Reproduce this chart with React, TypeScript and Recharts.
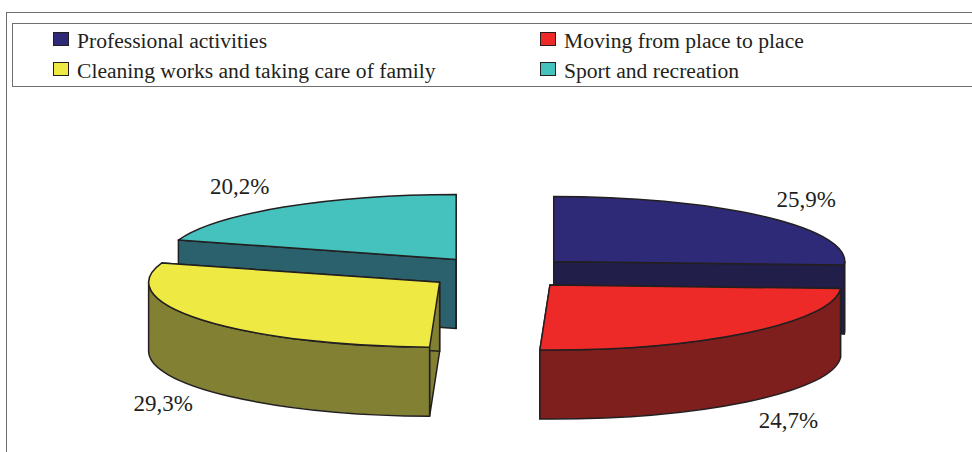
import React from "react";
import { PieChart, Pie, Legend } from "recharts";

const categories = [
  "Professional activities",
  "Moving from place to place",
  "Cleaning works and taking care of family",
  "Sport and recreation",
];
const shares = [25.9, 24.7, 29.3, 20.2];
const topColors = ["#2e2a78", "#ee2a28", "#efea43", "#45c1be"];
const wallColors = ["#211f4a", "#7f1f1d", "#828033", "#2b616c"];
// Paint back slices first so the front slices overlap them.
const paintOrder = [3, 0, 1, 2];

const INK = "#231f20";
const FONT = '"Liberation Serif", "Times New Roman", serif';
const RX = 291;
const RY = 65;
const TILT = RY / RX;
const DEPTH = 69;
const EXPLODE = 74;

const total = shares.reduce((s, v) => s + v, 0);
const startAngle = 90 + (360 * shares[3]) / total;
const pieData = paintOrder.map((i) => ({
  name: categories[i],
  value: shares[i],
  fill: topColors[i],
  wall: wallColors[i],
}));

function apex(cx: number, cy: number, mid: number) {
  const r = (mid * Math.PI) / 180;
  return { x: cx + EXPLODE * Math.cos(r), y: cy - EXPLODE * TILT * Math.sin(r) };
}

function Slice3D(props: any) {
  const { cx, cy, startAngle: a0, endAngle: a1, outerRadius, fill, payload } = props;
  const mid = (a0 + a1) / 2;
  const c = apex(cx, cy, mid);
  const ry = outerRadius * TILT;
  // t = degrees clockwise from 12 o'clock
  const pt = (t: number, dy = 0) => {
    const r = (t * Math.PI) / 180;
    return { x: c.x + outerRadius * Math.sin(r), y: c.y - ry * Math.cos(r) + dy };
  };
  const t0 = (((90 - a0) % 360) + 360) % 360;
  const t1 = t0 + Math.abs(a0 - a1);
  const f0 = Math.max(t0, 90);
  const f1 = Math.min(t1, 270);
  const s = pt(t0);
  const e = pt(t1);
  const quad = (p: { x: number; y: number }) =>
    `M${c.x},${c.y}L${p.x},${p.y}L${p.x},${p.y + DEPTH}L${c.x},${c.y + DEPTH}Z`;
  const arcTo = (p: { x: number; y: number }, sweep: number) =>
    `A${outerRadius},${ry} 0 0 ${sweep} ${p.x},${p.y}`;
  const common = { stroke: INK, strokeWidth: 1.5, strokeLinejoin: "round" as const };
  const wall = payload?.wall ?? props.wall;
  return (
    <g>
      <path d={quad(s)} fill={wall} {...common} />
      <path d={quad(e)} fill={wall} {...common} />
      {f0 < f1 && (
        <path
          d={`M${pt(f0).x},${pt(f0).y}${arcTo(pt(f1), 1)}L${pt(f1, DEPTH).x},${pt(f1, DEPTH).y}${arcTo(pt(f0, DEPTH), 0)}Z`}
          fill={wall}
          {...common}
        />
      )}
      <path d={`M${c.x},${c.y}L${s.x},${s.y}${arcTo(e, 1)}Z`} fill={fill} {...common} />
    </g>
  );
}

function sliceLabel(props: any) {
  const { cx, cy, midAngle, value } = props;
  const c = apex(cx, cy, midAngle);
  const r = (midAngle * Math.PI) / 180;
  const cos = Math.cos(r);
  const sin = Math.sin(r);
  const x = c.x + 269 * cos + Math.sign(cos) * 57;
  const y = c.y - 90 * sin + (sin < 0 ? DEPTH : 0);
  return (
    <text
      x={x}
      y={y}
      textAnchor="middle"
      dominantBaseline="central"
      fontFamily={FONT}
      fontSize={23}
      fill={INK}
    >
      {String(value).replace(".", ",")}%
    </text>
  );
}

function LegendBox(props: any) {
  const items = [...(props.payload ?? [])].sort(
    (a: any, b: any) => categories.indexOf(a.value) - categories.indexOf(b.value),
  );
  return (
    <div style={{ position: "relative", width: 972, height: 86 }}>
      {items.map((it: any, i: number) => {
        const left = i % 2 === 0 ? 53 : 540;
        const top = i < 2 ? 41 : 71;
        return (
          <React.Fragment key={it.value}>
            <div
              style={{
                position: "absolute",
                left,
                top: top - 9,
                width: 14,
                height: 12,
                background: topColors[categories.indexOf(it.value)],
                border: `1.5px solid ${INK}`,
              }}
            />
            <div
              style={{
                position: "absolute",
                left: left + 24,
                top: top - 13,
                lineHeight: "26px",
                fontFamily: FONT,
                fontSize: 21.6,
                color: INK,
                whiteSpace: "nowrap",
              }}
            >
              {it.value}
            </div>
          </React.Fragment>
        );
      })}
    </div>
  );
}

export default function App() {
  const line = "#6f6f6f";
  return (
    <div style={{ position: "absolute", left: 0, top: 0, width: 972, height: 452, overflow: "hidden", background: "#fff" }}>
      <div style={{ position: "absolute", left: 6, top: 12, width: 966, height: 1, background: line }} />
      <div style={{ position: "absolute", left: 6, top: 12, width: 1, height: 440, background: line }} />
      <div style={{ position: "absolute", left: 12, top: 23, width: 960, height: 1, background: line }} />
      <div style={{ position: "absolute", left: 12, top: 86, width: 960, height: 1, background: line }} />
      <div style={{ position: "absolute", left: 12, top: 23, width: 1, height: 63, background: line }} />
      <PieChart width={972} height={452} margin={{ top: 0, right: 0, bottom: 0, left: 0 }}>
        <Legend
          content={LegendBox as any}
          verticalAlign="top"
          wrapperStyle={{ position: "absolute", left: 0, top: 0, width: 972, height: 86 }}
        />
        <Pie
          data={pieData}
          dataKey="value"
          nameKey="name"
          cx={500}
          cy={186.8}
          innerRadius={0}
          outerRadius={RX}
          startAngle={startAngle}
          endAngle={startAngle - 360}
          paddingAngle={0}
          stroke={INK}
          shape={Slice3D as any}
          label={sliceLabel as any}
          labelLine={false}
          isAnimationActive={false}
        />
      </PieChart>
    </div>
  );
}
